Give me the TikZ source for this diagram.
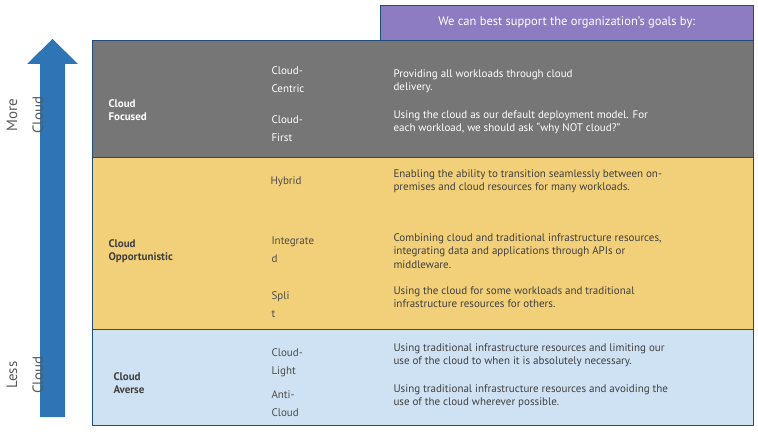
\documentclass[tikz,border=0pt]{standalone}
\usepackage{fontspec}
\setmainfont{PT Sans}
\definecolor{cgray}{RGB}{118,118,118}
\definecolor{cyel}{RGB}{242,208,122}
\definecolor{cblue}{RGB}{207,226,243}
\definecolor{cpur}{RGB}{142,124,195}
\definecolor{carr}{RGB}{46,117,182}
\definecolor{cbor}{RGB}{31,78,121}
\begin{document}
\begin{tikzpicture}[x=1pt,y=-1pt,
  cat/.style={anchor=west,font=\fontsize{11}{13}\selectfont\bfseries,align=left},
  sub/.style={anchor=west,font=\fontsize{11}{18}\selectfont,align=left,text=#1},
  desc/.style={anchor=west,font=\fontsize{11}{13.5}\selectfont,align=left,text=#1},
  band/.style={fill=#1,draw=none,minimum width=661,inner sep=0,anchor=north west}]
\useasboundingbox (0,0) rectangle (758,438);
\node[band=cgray, minimum height=117] (g) at (92,40) {};
\node[band=cyel, minimum height=172] (y) at (92,157) {};
\node[band=cblue, minimum height=96] (b) at (92,329) {};
\draw[cbor] (92,40) rectangle (753,425) (92,157) -- (753,157) (92,329) -- (753,329);
\node[fill=cpur,draw=cbor,minimum width=373,minimum height=35,inner sep=0,anchor=north west,text=white,font=\fontsize{12.5}{14}\selectfont] (hdr) at (380,5) {We can best support the organization’s goals by:};
\fill[carr] (40,417) -- (40,64) -- (27,64) -- (52.5,39) -- (78,64) -- (65,64) -- (65,417) -- cycle;
\node[rotate=90,font=\fontsize{15}{26}\selectfont,text=black!65,align=center] (mc) at (25,115) {More\\Cloud};
\node[rotate=90,font=\fontsize{15}{26}\selectfont,text=black!65,align=center] (lc) at (25,375) {Less\\Cloud};
\node[cat,text=white] (c1) at (105,110) {Cloud\\Focused};
\node[cat,text=black!75] (c2) at (105,251) {Cloud\\Opportunistic};
\node[cat,text=black!75] (c3) at (110,383) {Cloud\\Averse};
\node[sub=white] (s1) at (268,80) {Cloud-\\Centric};
\node[sub=white] (s2) at (268,129) {Cloud-\\First};
\node[sub=black!70] (s3) at (267,182) {Hybrid};
\node[sub=black!70] (s4) at (268,250) {Integrate\\d};
\node[sub=black!70] (s5) at (268,305) {Spli\\t};
\node[sub=black!70] (s6) at (268,363) {Cloud-\\Light};
\node[sub=black!70] (s7) at (268,404) {Anti-\\Cloud};
\node[desc=white] (d1) at (390,81) {Providing all workloads through cloud\\delivery.};
\node[desc=white] (d2) at (390,122) {Using the cloud as our default deployment model. For\\each workload, we should ask “why NOT cloud?”};
\node[desc=black!75] (d3) at (390,181) {Enabling the ability to transition seamlessly between on-\\premises and cloud resources for many workloads.};
\node[desc=black!75] (d4) at (390,251) {Combining cloud and traditional infrastructure resources,\\integrating data and applications through APIs or\\middleware.};
\node[desc=black!75] (d5) at (390,297) {Using the cloud for some workloads and traditional\\infrastructure resources for others.};
\node[desc=black!75] (d6) at (390,355) {Using traditional infrastructure resources and limiting our\\use of the cloud to when it is absolutely necessary.};
\node[desc=black!75] (d7) at (390,396) {Using traditional infrastructure resources and avoiding the\\use of the cloud wherever possible.};
\end{tikzpicture}
\end{document}
